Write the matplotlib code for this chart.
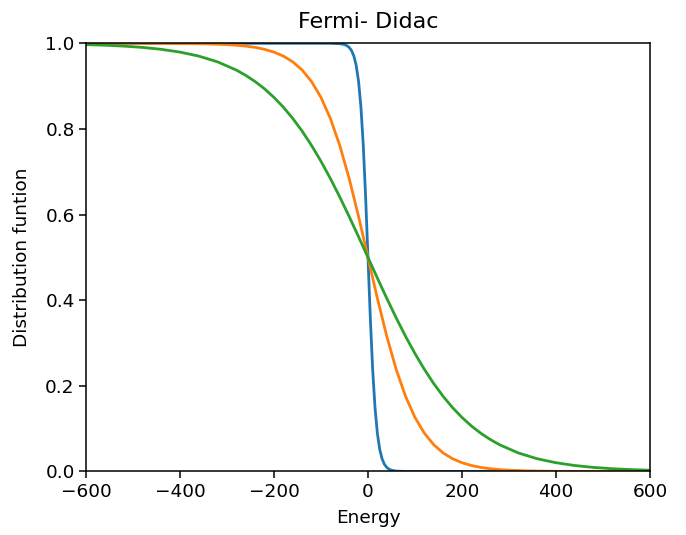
import matplotlib
matplotlib.use("Agg")
import matplotlib.pyplot as plt

# Energy grid and distribution values
energy_blue = [-600, -100, -80, -60, -55, -50, -45, -40, -35, -30, -25, -20, -15, -10, -5,
               0, 5, 10, 15, 20, 25, 30, 35, 40, 45, 50, 55, 60, 80, 100, 600]
f_blue = [1.0, 1.0, 0.9999, 0.9991, 0.9983, 0.9970, 0.9947, 0.9905, 0.9832, 0.9704, 0.9482,
          0.9110, 0.8512, 0.7618, 0.6414, 0.5, 0.3586, 0.2382, 0.1488, 0.0890, 0.0518,
          0.0296, 0.0168, 0.0095, 0.0053, 0.0030, 0.0017, 0.0009, 0.0001, 0.0, 0.0]

energy_orange = [-600, -500, -400, -340, -300, -280, -260, -240, -220, -200, -180, -160, -140,
                 -120, -100, -80, -60, -40, -20, 0, 20, 40, 60, 80, 100, 120, 140, 160, 180,
                 200, 220, 240, 260, 280, 300, 340, 400, 500, 600]
f_orange = [1.0, 0.9999, 0.9996, 0.9986, 0.9970, 0.9956, 0.9935, 0.9905, 0.9860, 0.9795,
            0.9702, 0.9567, 0.9375, 0.9106, 0.8737, 0.8245, 0.7614, 0.6843, 0.5955, 0.5,
            0.4045, 0.3157, 0.2386, 0.1755, 0.1263, 0.0894, 0.0625, 0.0433, 0.0298, 0.0205,
            0.0140, 0.0095, 0.0065, 0.0044, 0.0030, 0.0014, 0.0004, 0.0001, 0.0]

energy_green = [-600, -560, -520, -480, -440, -400, -360, -320, -280, -260, -240, -220, -200,
                -180, -160, -140, -120, -100, -80, -60, -40, -20, 0, 20, 40, 60, 80, 100, 120,
                140, 160, 180, 200, 220, 240, 260, 280, 320, 360, 400, 440, 480, 520, 560, 600]
f_green = [0.9970, 0.9956, 0.9935, 0.9905, 0.9860, 0.9795, 0.9702, 0.9567, 0.9375, 0.9251,
           0.9106, 0.8936, 0.8737, 0.8508, 0.8245, 0.7948, 0.7614, 0.7245, 0.6843, 0.6411,
           0.5955, 0.5482, 0.5, 0.4518, 0.4045, 0.3589, 0.3157, 0.2755, 0.2386, 0.2052,
           0.1755, 0.1492, 0.1263, 0.1064, 0.0894, 0.0749, 0.0625, 0.0433, 0.0298, 0.0205,
           0.0140, 0.0095, 0.0065, 0.0044, 0.0030]

plt.rcParams['xtick.major.size'] = 4.7
plt.rcParams['ytick.major.size'] = 4.7
plt.rcParams['xtick.major.width'] = 1.1
plt.rcParams['ytick.major.width'] = 1.1
plt.rcParams['axes.linewidth'] = 1.1

fig = plt.figure(figsize=(6.86, 5.35), dpi=100)
ax = fig.add_axes([0.1254, 0.1187, 0.822, 0.8003])

ax.plot(energy_blue, f_blue, linewidth=2)
ax.plot(energy_orange, f_orange, linewidth=2)
ax.plot(energy_green, f_green, linewidth=2)

ax.set_xlim(-600, 600)
ax.set_ylim(0, 1)
ax.tick_params(labelsize=13.3)
ax.set_title("Fermi- Didac", fontsize=16, pad=11)
ax.set_xlabel("Energy", fontsize=13.3, labelpad=6)
ax.set_ylabel("Distribution funtion", fontsize=13.3, labelpad=10)

fig.savefig("out.png", dpi=100)
